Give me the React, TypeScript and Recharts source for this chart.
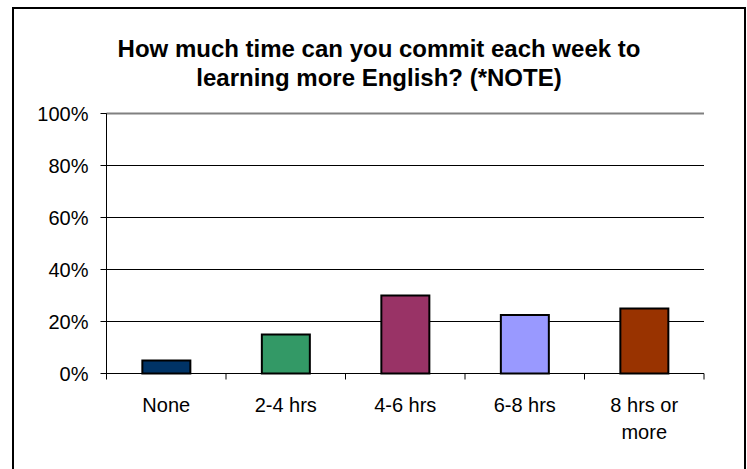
import { Bar, BarChart, CartesianGrid, Cell, ReferenceLine, XAxis, YAxis } from "recharts";

const CATEGORIES = ["None", "2-4 hrs", "4-6 hrs", "6-8 hrs", "8 hrs or more"];
const SHARES = [5, 15, 30, 22.5, 25]; // percent of respondents
const COLORS = ["#003366", "#339966", "#993366", "#9999FF", "#993300"];
const Y_TICKS = [0, 20, 40, 60, 80, 100];

const data = CATEGORIES.map((name, i) => ({ name, value: SHARES[i] }));

// greedy word wrap so "8 hrs or more" breaks like the original
function wrap(label: string, max = 9): string[] {
  const out: string[] = [];
  let cur = "";
  for (const w of label.split(" ")) {
    const next = cur ? cur + " " + w : w;
    if (next.length > max && cur) {
      out.push(cur);
      cur = w;
    } else cur = next;
  }
  if (cur) out.push(cur);
  return out;
}

function CategoryTick(props: any) {
  const { x, y, payload, index } = props;
  const half = payload.offset || 0;
  const lines = wrap(String(payload.value));
  return (
    <g>
      {index === 0 && <line x1={x - half} y1={y} x2={x - half} y2={y + 6} stroke="#000" />}
      <line x1={x + half} y1={y} x2={x + half} y2={y + 6} stroke="#000" />
      <text x={x} y={y + 38} textAnchor="middle" fontSize={20} fill="#000">
        {lines.map((l, i) => (
          <tspan key={i} x={x} dy={i === 0 ? 0 : 27}>
            {l}
          </tspan>
        ))}
      </text>
    </g>
  );
}

export default function App() {
  return (
    <div
      style={{
        position: "absolute",
        left: 0,
        top: 0,
        width: 747,
        height: 469,
        overflow: "hidden",
        background: "#fff",
        fontFamily: "'Liberation Sans', Arial, sans-serif",
      }}
    >
      <div
        style={{
          position: "absolute",
          left: 12,
          top: 7,
          width: 730,
          height: 480,
          border: "2px solid #000",
        }}
      />
      <div
        style={{
          position: "absolute",
          left: 12,
          top: 34,
          width: 734,
          textAlign: "center",
          fontSize: 24,
          lineHeight: "29px",
          fontWeight: "bold",
          color: "#000",
        }}
      >
        How much time can you commit each week to
        <br />
        learning more English? (*NOTE)
      </div>
      <div style={{ position: "absolute", left: 0, top: 0 }}>
        <BarChart
          width={747}
          height={469}
          data={data}
          margin={{ top: 113.5, right: 43, left: 16.5, bottom: 35.5 }}
          barCategoryGap="30%"
          style={{ fontFamily: "'Liberation Sans', Arial, sans-serif" }}
        >
          <CartesianGrid vertical={false} stroke="#000" strokeOpacity={1} />
          <XAxis
            dataKey="name"
            height={60}
            tickLine={false}
            tickSize={0}
            tickMargin={0}
            axisLine={{ stroke: "#000" }}
            interval={0}
            tick={<CategoryTick />}
          />
          <YAxis
            domain={[0, 100]}
            ticks={Y_TICKS}
            width={90}
            tickSize={6}
            tickMargin={12}
            tickFormatter={(v) => `${v}%`}
            tick={{ fontSize: 20, fill: "#000" }}
            tickLine={{ stroke: "#000" }}
            axisLine={{ stroke: "#000" }}
          />
          <YAxis
            yAxisId="r"
            orientation="right"
            domain={[0, 100]}
            width={0}
            tick={false}
            tickLine={false}
            axisLine={{ stroke: "#808080", strokeWidth: 2 }}
          />
          <ReferenceLine y={100} stroke="#808080" strokeWidth={2} />
          <Bar dataKey="value" stroke="#000" strokeWidth={2} isAnimationActive={false}>
            {data.map((_, i) => (
              <Cell key={i} fill={COLORS[i]} />
            ))}
          </Bar>
        </BarChart>
      </div>
    </div>
  );
}
